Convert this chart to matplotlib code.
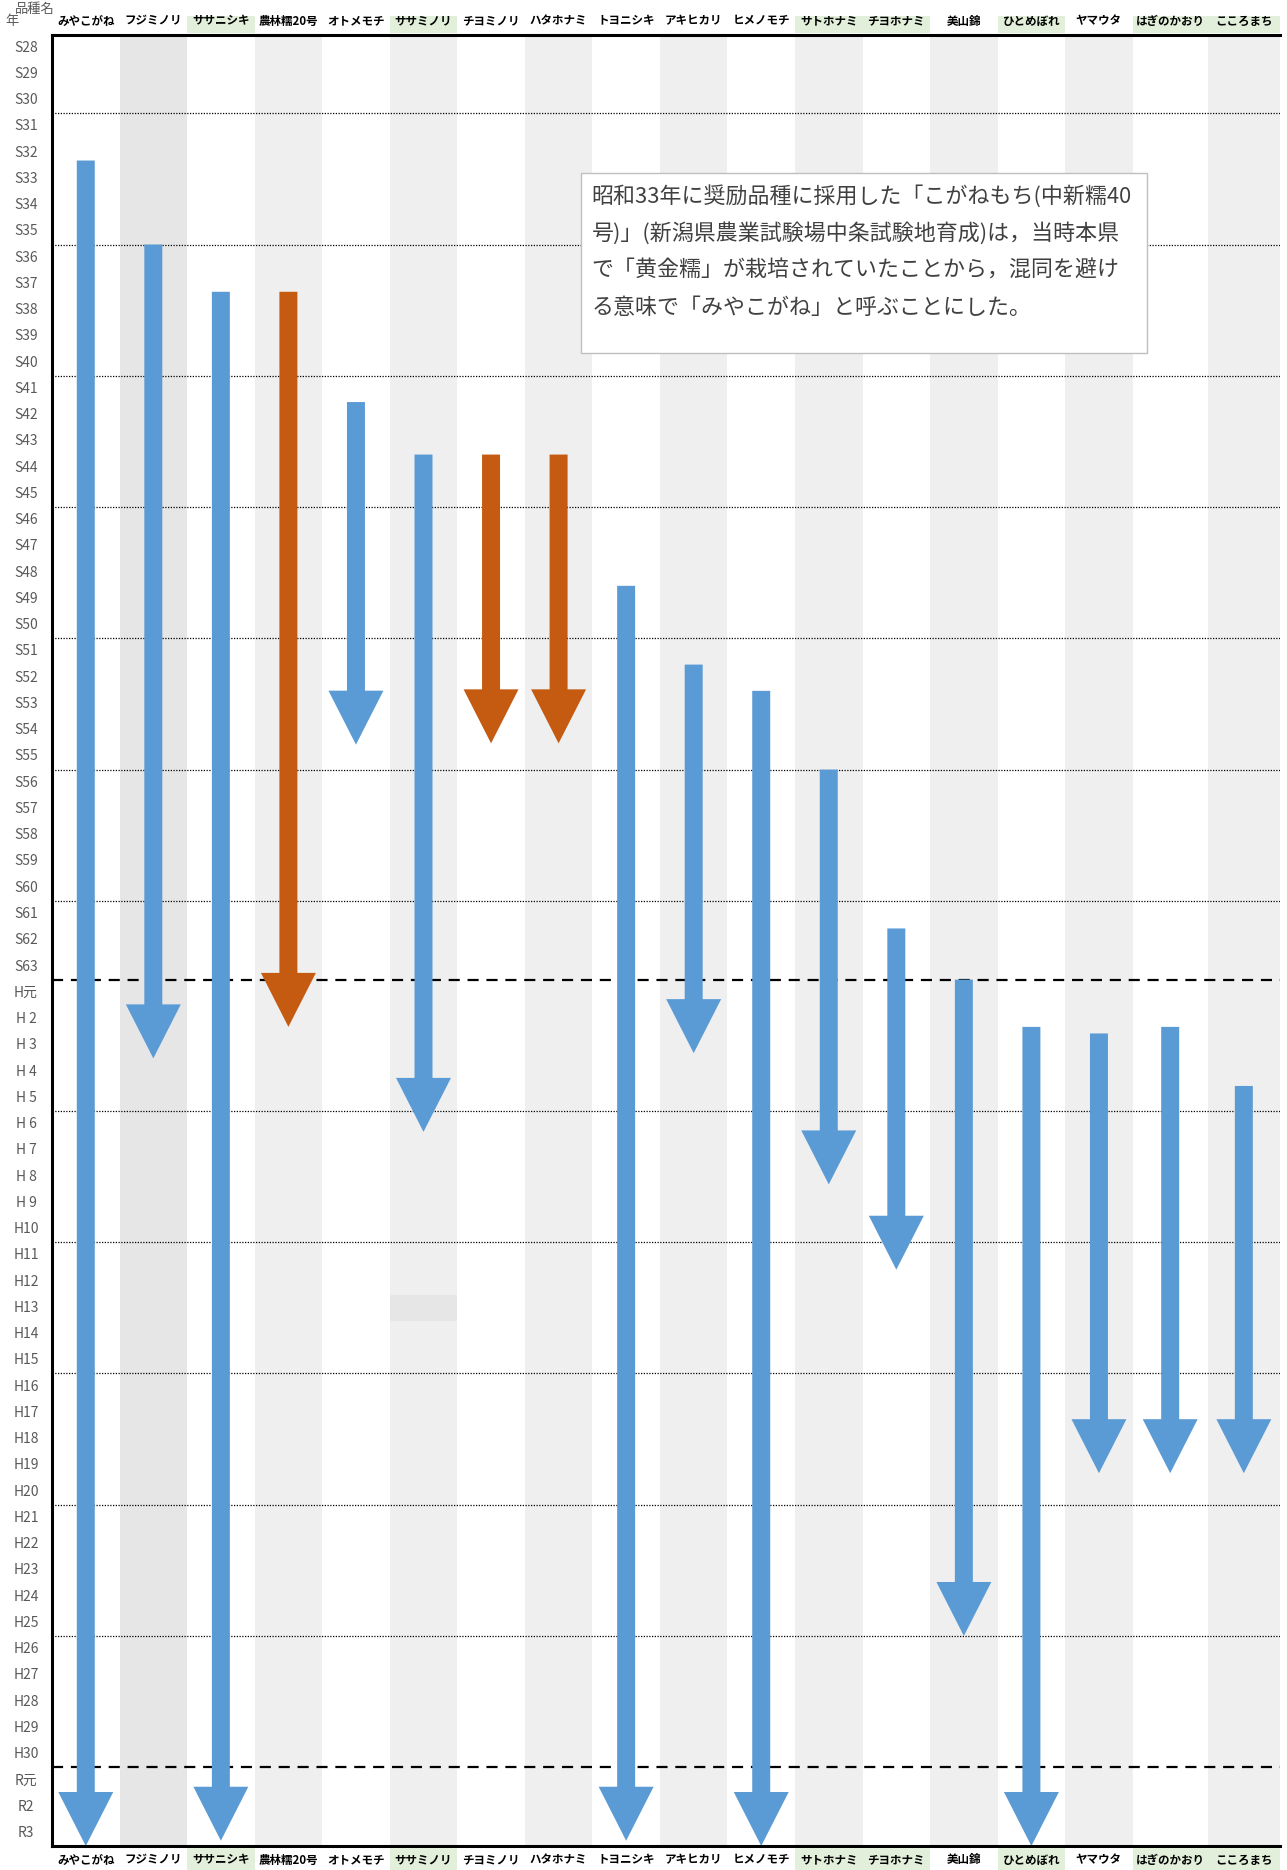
import matplotlib
matplotlib.use("Agg")
import matplotlib.pyplot as plt
from matplotlib.patches import FancyArrow, Rectangle
from matplotlib.transforms import blended_transform_factory

plt.rcParams['font.family'] = ['Noto Sans CJK JP', 'DejaVu Sans']

# ---------------- data ----------------
varieties = ["みやこがね", "フジミノリ", "ササニシキ", "農林糯20号", "オトメモチ", "ササミノリ",
             "チヨミノリ", "ハタホナミ", "トヨニシキ", "アキヒカリ", "ヒメノモチ", "サトホナミ",
             "チヨホナミ", "美山錦", "ひとめぼれ", "ヤマウタ", "はぎのかおり", "こころまち"]
# arrow start / end, in rows counted from the top of S28 (0) to the bottom of R3 (69)
arrow_start = [4.8, 8.0, 9.8, 9.8, 14.0, 16.0, 16.0, 16.0, 21.0, 24.0, 25.0, 28.0,
               34.05, 36.0, 37.8, 38.05, 37.8, 40.05]
arrow_end = [69.0, 39.0, 68.8, 37.8, 27.05, 41.8, 27.0, 27.0, 68.8, 38.8, 69.0, 43.8,
             47.05, 61.0, 69.0, 54.8, 54.8, 54.8]
arrow_kind = ["b", "b", "b", "o", "b", "b", "o", "o", "b", "b", "b", "b",
              "b", "b", "b", "b", "b", "b"]
green_header = [2, 5, 11, 12, 14, 16, 17]

year_labels = ([f"S{y}" for y in range(28, 64)] + ["H元"] +
               [f"H {y}" for y in range(2, 10)] + [f"H{y}" for y in range(10, 31)] +
               ["R元", "R2", "R3"])
dotted_rows = [3, 8, 13, 18, 23, 28, 33, 41, 46, 51, 56, 61]
dashed_rows = [36, 66]

note_lines = ["昭和33年に奨励品種に採用した「こがねもち(中新糯40",
              "号)」(新潟県農業試験場中条試験地育成)は，当時本県",
              "で「黄金糯」が栽培されていたことから，混同を避け",
              "る意味で「みやこがね」と呼ぶことにした。"]

# ---------------- layout ----------------
W, H = 1287, 1870
L, R, T, B = 52, 1280, 34.5, 1846
col_w = [67.6] * 16 + [75.0, 72.4]          # column widths in pixels
edges = [0.0]
for w in col_w:
    edges.append(edges[-1] + w)
centers = [(edges[i] + edges[i + 1]) / 2 for i in range(len(col_w))]

fig = plt.figure(figsize=(W / 100, H / 100), dpi=100)
ax = fig.add_axes([L / W, 1 - B / H, (R - L) / W, (B - T) / H])
ncol = len(varieties)
nrow = len(year_labels)
ax.set_xlim(0, edges[-1])
ax.set_ylim(nrow, 0)
rowpx = (B - T) / nrow

colors = {"b": "#5b9bd5", "o": "#c55a11"}

# column bands
for i in range(ncol):
    if i % 2 == 1:
        c = "#e6e6e6" if i == 1 else "#efefef"
        ax.axvspan(edges[i], edges[i + 1], color=c, lw=0, zorder=0)
# darker cell in ササミノリ column at H13
ax.add_patch(Rectangle((edges[5], 48), col_w[5], 1, facecolor="#e6e6e6", lw=0, zorder=0.5))

# gridlines
for r in dotted_rows:
    ax.axhline(r, color="black", lw=0.9, ls=(0, (1, 1.2)), zorder=1)
for r in dashed_rows:
    ax.axhline(r, color="black", lw=1.6, ls=(0, (5, 3.5)), zorder=1)

# arrows
for i, (s, e, k) in enumerate(zip(arrow_start, arrow_end, arrow_kind)):
    ar = FancyArrow(centers[i], s, 0, e - s, width=18, head_width=55,
                    head_length=54 / rowpx, length_includes_head=True,
                    color=colors[k], lw=0, zorder=2)
    ax.add_patch(ar)

# spines
for sp in ["left", "top", "bottom"]:
    ax.spines[sp].set_linewidth(2.2)
    ax.spines[sp].set_color("black")
ax.spines["right"].set_visible(False)
ax.set_xticks([])
ax.set_yticks([])

# row labels
tr_lab = blended_transform_factory(fig.transFigure, ax.transData)
for j, lab in enumerate(year_labels):
    fig.text(26 / W, j + 0.5, lab, transform=tr_lab, ha="center", va="center",
             fontsize=10, color="#595959")

# header / footer
trh = blended_transform_factory(ax.transData, fig.transFigure)
for i in green_header:
    fig.patches.append(Rectangle((edges[i], 1 - 33 / H), col_w[i], 17 / H, transform=trh,
                                 facecolor="#e2efda", lw=0, zorder=0))
    fig.patches.append(Rectangle((edges[i], 0), col_w[i], 22 / H, transform=trh,
                                 facecolor="#e2efda", lw=0, zorder=0))
for i, v in enumerate(varieties):
    fig.text(centers[i], 1 - 21 / H, v, transform=trh, ha="center", va="center",
             fontsize=8.3, fontweight="bold", color="black")
    fig.text(centers[i], 1 - 1860 / H, v, transform=trh, ha="center", va="center",
             fontsize=8.3, fontweight="bold", color="black")

fig.text(35 / W, 1 - 9 / H, "品種名", ha="center", va="center", fontsize=9.5, color="#595959")
fig.text(12 / W, 1 - 21 / H, "年", ha="center", va="center", fontsize=9.5, color="#595959")

# note box
bx0, bx1 = 581 - L, 1148 - L
by0, by1 = (173 - T) / rowpx, (353 - T) / rowpx
ax.add_patch(Rectangle((bx0, by0), bx1 - bx0, by1 - by0, facecolor="white",
                       edgecolor="#bfbfbf", lw=1, zorder=5))
for k, line in enumerate(note_lines):
    yline = (196.5 + 37 * k - T) / rowpx
    ax.text(592 - L, yline, line, ha="left", va="center", fontsize=15.8,
            color="#404040", zorder=6)

fig.savefig("out.png", dpi=100)
